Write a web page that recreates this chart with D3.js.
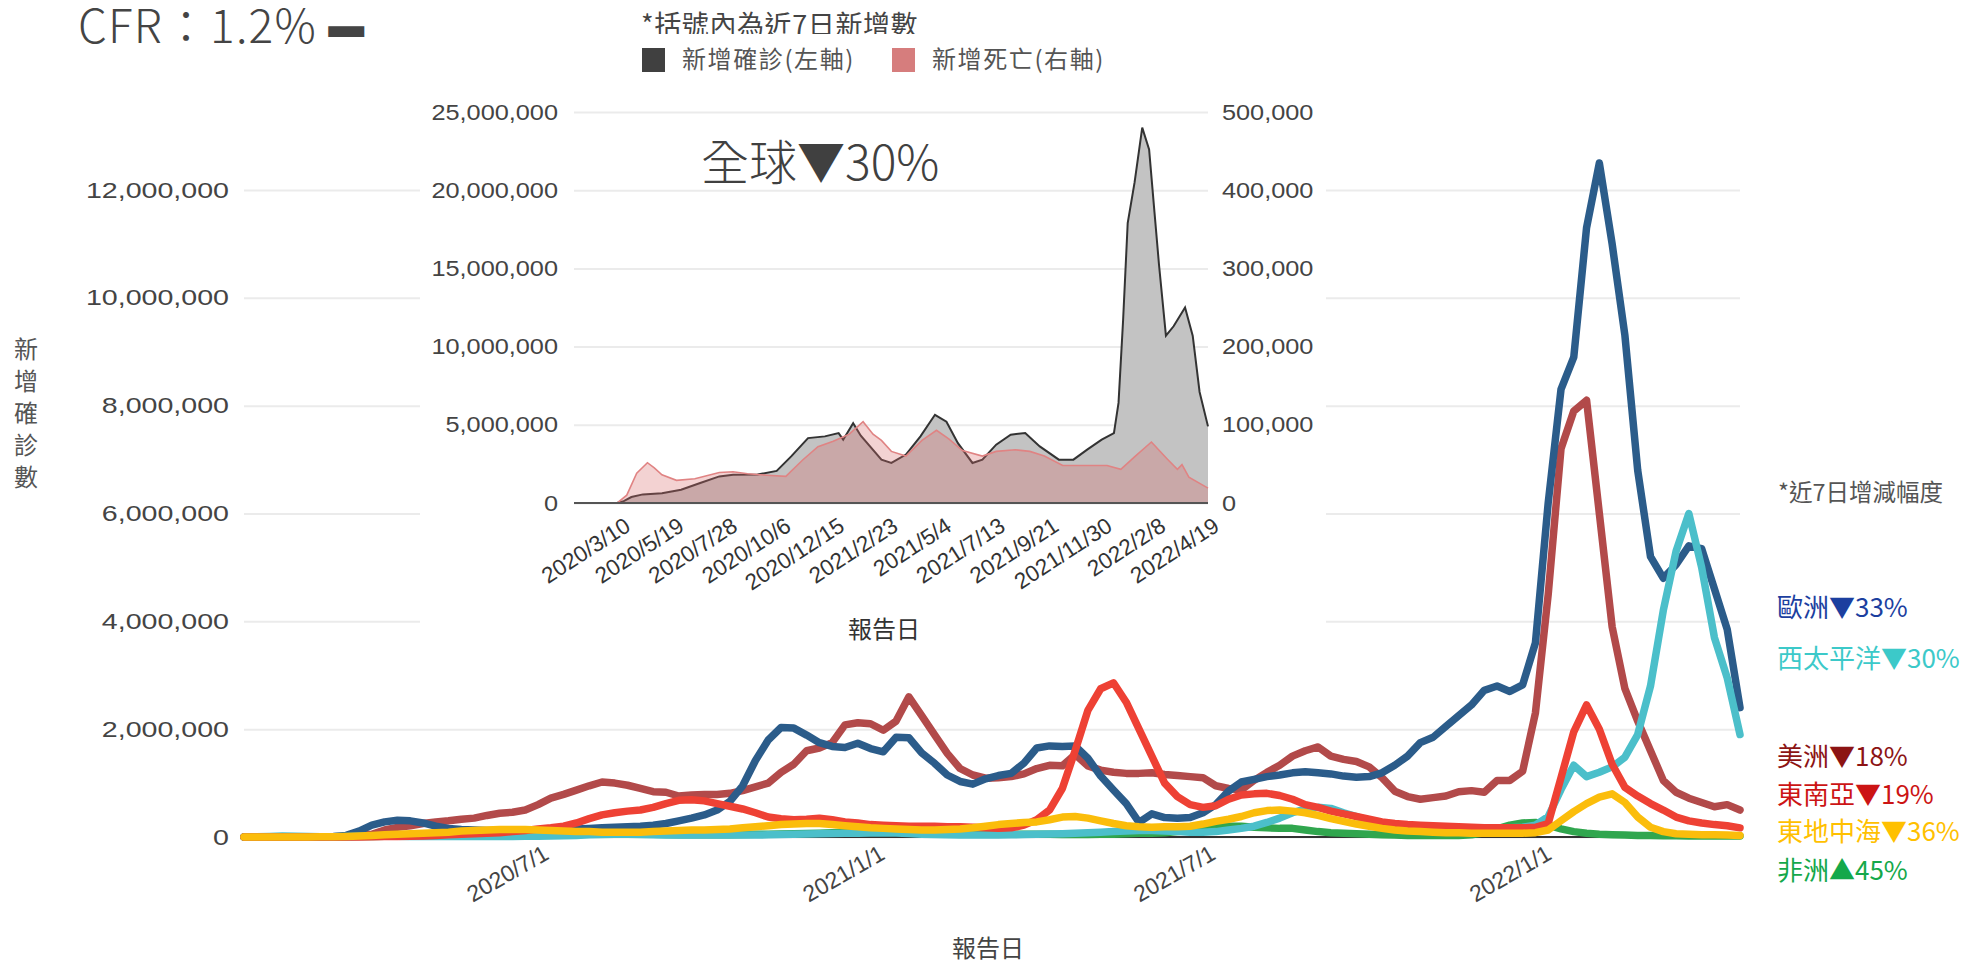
<!DOCTYPE html>
<html>
<head>
<meta charset="utf-8">
<script src="https://cdn.jsdelivr.net/npm/d3@7"></script>
<style>
  body { margin: 0; background: #fff; }
</style>
</head>
<body>
<svg id="chart"></svg>
<script>
// ---------- main chart: weekly new cases per WHO region (millions), one value per week from 2020/1/20 ----------
const weekStart = '2020-01-20';

const europe = [
  0, 0, 0, 0, 0, 0, 0.005, 0.01, 0.03, 0.11,
  0.22, 0.28, 0.31, 0.3, 0.26, 0.2, 0.16, 0.14, 0.13, 0.12,
  0.12, 0.12, 0.13, 0.13, 0.13, 0.14, 0.15, 0.16, 0.17, 0.18,
  0.19, 0.2, 0.22, 0.25, 0.3, 0.35, 0.41, 0.5, 0.66, 0.95,
  1.42, 1.8, 2.03, 2.02, 1.89, 1.75, 1.68, 1.66, 1.74, 1.64,
  1.58, 1.85, 1.84, 1.56, 1.37, 1.15, 1.03, 0.98, 1.08, 1.14,
  1.18, 1.37, 1.65, 1.69, 1.68, 1.69, 1.46, 1.13, 0.87, 0.62,
  0.27, 0.43, 0.36, 0.35, 0.36, 0.45, 0.6, 0.85, 1.02, 1.07,
  1.12, 1.15, 1.19, 1.21, 1.19, 1.17, 1.13, 1.11, 1.12, 1.19,
  1.33, 1.5, 1.75, 1.85, 2.05, 2.25, 2.45, 2.72, 2.8, 2.7,
  2.82, 3.6, 6.2, 8.3, 8.9, 11.3, 12.5, 11.0, 9.3, 6.8,
  5.2, 4.8, 5.05, 5.4, 5.35, 4.6, 3.85, 2.4
];
const westPacific = [
  0.002, 0.005, 0.01, 0.02, 0.015, 0.01, 0.005, 0.005, 0.008, 0.012,
  0.015, 0.015, 0.012, 0.01, 0.008, 0.008, 0.007, 0.007, 0.008, 0.009,
  0.01, 0.01, 0.012, 0.014, 0.018, 0.025, 0.03, 0.04, 0.045, 0.05,
  0.05, 0.045, 0.04, 0.035, 0.035, 0.035, 0.035, 0.035, 0.035, 0.035,
  0.035, 0.04, 0.045, 0.05, 0.055, 0.06, 0.065, 0.07, 0.07, 0.075,
  0.08, 0.075, 0.065, 0.05, 0.045, 0.04, 0.035, 0.035, 0.035, 0.035,
  0.04, 0.045, 0.05, 0.055, 0.06, 0.07, 0.08, 0.09, 0.1, 0.11,
  0.12, 0.12, 0.11, 0.1, 0.09, 0.09, 0.1, 0.13, 0.16, 0.2,
  0.27, 0.35, 0.45, 0.52, 0.55, 0.53, 0.45, 0.38, 0.3, 0.24,
  0.2, 0.18, 0.17, 0.17, 0.17, 0.17, 0.17, 0.17, 0.17, 0.17,
  0.18, 0.22, 0.38, 0.88, 1.33, 1.12, 1.2, 1.3, 1.48, 1.9,
  2.8, 4.2, 5.3, 6.0, 5.0, 3.7, 2.95, 1.9
];
const americas = [
  0, 0, 0, 0, 0, 0, 0, 0.002, 0.01, 0.03,
  0.05, 0.13, 0.18, 0.21, 0.25, 0.28, 0.3, 0.33, 0.35, 0.4,
  0.44, 0.46, 0.5, 0.6, 0.72, 0.79, 0.87, 0.95, 1.02, 1.0,
  0.96, 0.9, 0.84, 0.83, 0.76, 0.78, 0.79, 0.79, 0.81, 0.86,
  0.93, 1.0, 1.2, 1.35, 1.6, 1.65, 1.75, 2.08, 2.12, 2.1,
  1.98, 2.15, 2.6, 2.25, 1.9, 1.55, 1.27, 1.15, 1.09, 1.1,
  1.12, 1.17, 1.27, 1.33, 1.32, 1.53, 1.32, 1.24, 1.2, 1.18,
  1.18, 1.19, 1.16, 1.14, 1.12, 1.1, 0.95, 0.9, 0.87, 1.05,
  1.2, 1.33, 1.5, 1.6, 1.67, 1.5, 1.44, 1.4, 1.3, 1.1,
  0.85, 0.75, 0.7, 0.73, 0.76, 0.84, 0.86, 0.83, 1.05, 1.05,
  1.22, 2.3, 4.5, 7.2, 7.9, 8.1, 6.0, 3.9, 2.75, 2.15,
  1.6, 1.05, 0.83, 0.72, 0.64, 0.56, 0.6, 0.5
];
const seAsia = [
  0, 0, 0, 0, 0, 0, 0, 0, 0, 0.002,
  0.005, 0.01, 0.01, 0.015, 0.02, 0.03, 0.04, 0.05, 0.06, 0.07,
  0.08, 0.1, 0.12, 0.15, 0.17, 0.2, 0.26, 0.34, 0.41, 0.45,
  0.48, 0.5, 0.55, 0.62, 0.68, 0.69, 0.67, 0.62, 0.57, 0.52,
  0.45, 0.37, 0.34, 0.32, 0.33, 0.35, 0.32, 0.28, 0.26, 0.23,
  0.22, 0.21, 0.2, 0.2, 0.2, 0.19, 0.19, 0.18, 0.17, 0.16,
  0.17, 0.22, 0.32, 0.5, 0.9, 1.6, 2.35, 2.75, 2.86, 2.5,
  2.0, 1.5, 1.0, 0.75, 0.6, 0.55, 0.58, 0.7, 0.78, 0.8,
  0.81, 0.77, 0.7, 0.6, 0.55, 0.48, 0.43, 0.38, 0.33, 0.28,
  0.25, 0.23, 0.22, 0.21, 0.2, 0.19, 0.18, 0.17, 0.17, 0.17,
  0.17, 0.18, 0.25, 1.1, 1.95, 2.45, 2.0, 1.35, 0.92, 0.76,
  0.62, 0.5, 0.37, 0.3, 0.26, 0.23, 0.21, 0.17
];
const eastMed = [
  0, 0, 0, 0, 0, 0.001, 0.003, 0.005, 0.01, 0.02,
  0.03, 0.04, 0.05, 0.06, 0.07, 0.08, 0.09, 0.11, 0.12, 0.13,
  0.14, 0.14, 0.14, 0.13, 0.12, 0.11, 0.1, 0.1, 0.09, 0.09,
  0.09, 0.09, 0.1, 0.11, 0.12, 0.13, 0.13, 0.14, 0.15, 0.17,
  0.19, 0.21, 0.23, 0.24, 0.25, 0.25, 0.23, 0.21, 0.19, 0.17,
  0.16, 0.15, 0.14, 0.13, 0.13, 0.14, 0.15, 0.17, 0.2, 0.23,
  0.25, 0.27, 0.28, 0.32, 0.37, 0.38, 0.35, 0.3, 0.25, 0.21,
  0.19, 0.18, 0.19, 0.19, 0.2, 0.24, 0.29, 0.33, 0.38, 0.45,
  0.49, 0.5, 0.48, 0.45, 0.4, 0.34, 0.29, 0.24, 0.2, 0.16,
  0.13, 0.11, 0.1, 0.09, 0.08, 0.08, 0.07, 0.07, 0.07, 0.07,
  0.07, 0.08, 0.13, 0.3, 0.47, 0.62, 0.74, 0.8, 0.64, 0.37,
  0.18, 0.1, 0.06, 0.05, 0.04, 0.04, 0.035, 0.03
];
const africa = [
  0, 0, 0, 0, 0, 0, 0.001, 0.002, 0.005, 0.008,
  0.01, 0.012, 0.015, 0.018, 0.02, 0.025, 0.03, 0.035, 0.04, 0.05,
  0.06, 0.07, 0.08, 0.1, 0.11, 0.12, 0.12, 0.11, 0.1, 0.08,
  0.07, 0.06, 0.05, 0.045, 0.04, 0.04, 0.04, 0.04, 0.04, 0.045,
  0.05, 0.05, 0.055, 0.06, 0.065, 0.07, 0.08, 0.09, 0.1, 0.12,
  0.13, 0.13, 0.12, 0.1, 0.08, 0.07, 0.06, 0.05, 0.05, 0.05,
  0.05, 0.05, 0.05, 0.05, 0.045, 0.045, 0.045, 0.05, 0.05, 0.06,
  0.07, 0.07, 0.08, 0.1, 0.12, 0.15, 0.18, 0.2, 0.2, 0.18,
  0.17, 0.16, 0.16, 0.13, 0.1, 0.08, 0.07, 0.06, 0.05, 0.04,
  0.035, 0.03, 0.03, 0.03, 0.03, 0.03, 0.04, 0.08, 0.15, 0.22,
  0.26, 0.27, 0.22, 0.15, 0.1, 0.07, 0.05, 0.04, 0.035, 0.03,
  0.03, 0.025, 0.025, 0.02, 0.02, 0.02, 0.02, 0.02
];

const regionNames = ['歐洲', '西太平洋', '美洲', '東南亞', '東地中海', '非洲'];
const regionChange = ['▼33%', '▼30%', '▼18%', '▼19%', '▼36%', '▲45%'];
const mainYTicks = [0, 2e6, 4e6, 6e6, 8e6, 10e6, 12e6];
const mainXTicks = ['2020/7/1', '2021/1/1', '2021/7/1', '2022/1/1'];

// ---------- inset: global 7-day totals ----------
const caseDates = [
  '2020-01-11', '2020-03-08', '2020-03-16', '2020-03-26', '2020-04-10', '2020-05-05', '2020-05-30',
  '2020-06-24', '2020-07-19', '2020-08-06', '2020-09-07', '2020-10-02', '2020-10-21', '2020-11-12',
  '2020-12-04', '2020-12-22', '2020-12-28', '2021-01-10', '2021-01-20', '2021-02-16', '2021-03-01',
  '2021-03-20', '2021-04-08', '2021-04-27', '2021-05-12', '2021-05-27', '2021-06-15', '2021-06-28',
  '2021-07-16', '2021-08-04', '2021-08-23', '2021-09-11', '2021-10-06', '2021-10-25', '2021-11-12',
  '2021-12-01', '2021-12-17', '2021-12-23', '2021-12-29', '2022-01-04', '2022-01-13', '2022-01-23',
  '2022-02-01', '2022-02-08', '2022-02-14', '2022-02-23', '2022-03-05', '2022-03-20', '2022-03-30',
  '2022-04-08', '2022-04-19'
];
const caseValues = [ // millions
  0, 0.02, 0.12, 0.38, 0.55, 0.62, 0.85,
  1.28, 1.7, 1.8, 1.82, 2.05, 2.98, 4.15,
  4.26, 4.47, 4.05, 5.1, 4.3, 2.77, 2.56,
  3.1, 4.26, 5.64, 5.2, 3.83, 2.56, 2.77,
  3.73, 4.37, 4.47, 3.62, 2.77, 2.77, 3.41,
  4.05, 4.47, 6.4, 11.7, 17.9, 20.5, 24.0,
  22.6, 18.6, 15.2, 10.7, 11.3, 12.5, 10.7,
  7.1, 4.9
];
const deathDates = [
  '2020-01-11', '2020-03-08', '2020-03-20', '2020-04-02', '2020-04-16', '2020-04-25', '2020-05-05',
  '2020-05-24', '2020-06-17', '2020-07-19', '2020-08-06', '2020-08-25', '2020-09-19', '2020-10-14',
  '2020-11-05', '2020-11-25', '2020-12-15', '2021-01-05', '2021-01-23', '2021-02-05', '2021-02-16',
  '2021-03-01', '2021-03-20', '2021-04-10', '2021-04-29', '2021-05-15', '2021-06-02', '2021-06-28',
  '2021-07-16', '2021-08-10', '2021-08-29', '2021-09-17', '2021-10-11', '2021-11-12', '2021-12-08',
  '2021-12-26', '2022-01-14', '2022-02-04', '2022-02-25', '2022-03-10', '2022-03-16', '2022-03-25',
  '2022-04-19'
];
const deathValues = [ // thousands
  0, 0.5, 10, 38, 51.5, 45, 36,
  29, 31, 39, 40, 37.5, 35.5, 34,
  55, 72, 79, 88, 104, 88, 80,
  66, 60, 80, 93, 82, 67, 60,
  66, 68, 66, 60, 48, 48, 48,
  43, 60, 78, 56, 43, 49, 33,
  19
];
const insetXTicks = ['2020/3/10', '2020/5/19', '2020/7/28', '2020/10/6', '2020/12/15', '2021/2/23',
  '2021/5/4', '2021/7/13', '2021/9/21', '2021/11/30', '2022/2/8', '2022/4/19'];
const insetLeftTicks = [0, 5e6, 10e6, 15e6, 20e6, 25e6];
const insetRightTicks = [0, 1e5, 2e5, 3e5, 4e5, 5e5];

// ---------- drawing ----------
const CJK = "'Noto Sans CJK TC', 'Noto Sans', sans-serif";
const NUM = "'Liberation Sans', Arial, sans-serif";
const colors = {
  '歐洲': '#2b5c8a', '西太平洋': '#4bbfca', '美洲': '#b24a4a',
  '東南亞': '#ee4134', '東地中海': '#fbbd0b', '非洲': '#30a64e'
};
const labelColors = {
  '歐洲': '#1c3f9f', '西太平洋': '#3cc9c9', '美洲': '#8c1414',
  '東南亞': '#cc1414', '東地中海': '#ffc000', '非洲': '#14a84a'
};

const parseDay = d3.timeParse('%Y-%m-%d');
const parseTick = d3.timeParse('%Y/%m/%d');
const fmtTick = d3.timeFormat('%Y/%-m/%-d');
const start = parseDay(weekStart);
const dates = europe.map((d, i) => d3.timeDay.offset(start, i * 7));

const seriesValues = {
  '歐洲': europe, '西太平洋': westPacific, '美洲': americas,
  '東南亞': seAsia, '東地中海': eastMed, '非洲': africa
};
const drawOrder = ['非洲', '美洲', '歐洲', '西太平洋', '東南亞', '東地中海'];

const svg = d3.select('#chart').attr('width', 1962).attr('height', 966);

// stretch axis numbers horizontally like the source picture
function stretch(sel, sx) {
  sel.each(function () {
    const t = d3.select(this);
    const x0 = +t.attr('x') || 0;
    t.attr('x', 0).attr('transform', `translate(${x0},0) scale(${sx},1)`);
  });
}
function cleanAxis(g) {
  g.attr('font-size', null).attr('font-family', null);
  g.select('.domain').remove();
}

// ----- main chart -----
const main = { left: 244, right: 1740, top: 190, bottom: 837 };
const x = d3.scaleTime().domain([dates[0], dates[dates.length - 1]]).range([main.left, main.right]);
const y = d3.scaleLinear().domain([0, 12e6]).range([main.bottom, main.top]);

const gy = svg.append('g').attr('transform', `translate(${main.left},0)`)
  .call(d3.axisLeft(y).tickValues(mainYTicks).tickFormat(d3.format(','))
    .tickSize(-(main.right - main.left)).tickPadding(15));
cleanAxis(gy);
gy.selectAll('line').attr('stroke', '#ebebeb').attr('stroke-width', 2);
gy.selectAll('text').attr('fill', '#444').style('font-family', NUM).style('font-size', '22px');
stretch(gy.selectAll('text'), 1.3);

svg.append('line')
  .attr('x1', main.left).attr('x2', main.right).attr('y1', y(0)).attr('y2', y(0))
  .attr('stroke', '#333').attr('stroke-width', 2);

const gx = svg.append('g').attr('transform', `translate(0,${main.bottom})`)
  .call(d3.axisBottom(x).tickValues(mainXTicks.map(parseTick)).tickFormat(fmtTick).tickSize(0));
cleanAxis(gx);
gx.selectAll('text').attr('fill', '#444').style('font-family', NUM).style('font-size', '23px')
  .attr('y', 0).attr('dy', '0.35em').attr('text-anchor', 'end')
  .attr('transform', 'translate(4,14) rotate(-30)');

svg.append('text').attr('x', 988).attr('y', 949).attr('text-anchor', 'middle').attr('dy', '0.35em')
  .style('font-family', CJK).style('font-size', '24px').attr('fill', '#444').text('報告日');

const yTitle = svg.append('text').attr('x', 26).attr('y', 350).attr('text-anchor', 'middle')
  .style('font-family', CJK).style('font-size', '24px').attr('fill', '#555');
'新增確診數'.split('').forEach((c, i) => {
  yTitle.append('tspan').attr('x', 26).attr('y', 350 + i * 32).attr('dy', '0.35em').text(c);
});

const line = d3.line()
  .x((d, i) => x(dates[i]))
  .y(d => y(d * 1e6));
drawOrder.forEach(name => {
  svg.append('path')
    .attr('d', line(seriesValues[name]))
    .attr('fill', 'none')
    .attr('stroke', colors[name])
    .attr('stroke-width', 7.5)
    .attr('stroke-linejoin', 'round')
    .attr('stroke-linecap', 'round');
});

// right-hand annotations
svg.append('text').attr('x', 1778).attr('y', 493).attr('dy', '0.35em')
  .style('font-family', CJK).style('font-size', '23.5px').attr('fill', '#555').text('*近7日增減幅度');
const labelY = [608, 659, 757, 795, 832, 871];
regionNames.forEach((name, i) => {
  svg.append('text').attr('x', 1777).attr('y', labelY[i]).attr('dy', '0.35em')
    .style('font-family', CJK).style('font-size', '26px').attr('fill', labelColors[name])
    .text(name + regionChange[i]);
});

// CFR headline
const cfr = svg.append('text').attr('x', 78).attr('y', 43)
  .style('font-family', CJK).style('font-size', '46px').style('font-weight', 300)
  .style('letter-spacing', '1.2px').attr('fill', '#444')
  .text('CFR：1.2% ');
cfr.append('tspan').style('font-family', "'DejaVu Sans', sans-serif").style('font-size', '36px')
  .attr('dy', -6).text('▬');

// ----- inset: global chart -----
svg.append('text').attr('x', 641).attr('y', 35)
  .style('font-family', CJK).style('font-size', '27px').style('letter-spacing', '0.6px')
  .attr('fill', '#444').text('*括號內為近7日新增數');
svg.append('rect').attr('x', 420).attr('y', 34).attr('width', 906).attr('height', 626).attr('fill', '#fff');

const inset = { left: 574, right: 1208, top: 112, bottom: 503 };
const ix = d3.scaleTime().domain([parseDay('2020-01-11'), parseDay('2022-04-19')]).range([inset.left, inset.right]);
const iyL = d3.scaleLinear().domain([0, 25e6]).range([inset.bottom, inset.top]);
const iyR = d3.scaleLinear().domain([0, 5e5]).range([inset.bottom, inset.top]);

const gl = svg.append('g').attr('transform', `translate(${inset.left},0)`)
  .call(d3.axisLeft(iyL).tickValues(insetLeftTicks).tickFormat(d3.format(','))
    .tickSize(-(inset.right - inset.left)).tickPadding(16));
cleanAxis(gl);
gl.selectAll('line').attr('stroke', '#ebebeb').attr('stroke-width', 2);
gl.selectAll('text').attr('fill', '#444').style('font-family', NUM).style('font-size', '22px');
stretch(gl.selectAll('text'), 1.15);

const gr = svg.append('g').attr('transform', `translate(${inset.right},0)`)
  .call(d3.axisRight(iyR).tickValues(insetRightTicks).tickFormat(d3.format(',')).tickSize(0).tickPadding(14));
cleanAxis(gr);
gr.selectAll('text').attr('fill', '#444').style('font-family', NUM).style('font-size', '22px');
stretch(gr.selectAll('text'), 1.15);

const cases = caseDates.map((d, i) => ({ date: parseDay(d), v: caseValues[i] * 1e6 }));
const deaths = deathDates.map((d, i) => ({ date: parseDay(d), v: deathValues[i] * 1e3 }));

svg.append('path')
  .attr('d', d3.area().x(d => ix(d.date)).y0(iyL(0)).y1(d => iyL(d.v))(cases))
  .attr('fill', '#c3c3c3');
svg.append('path')
  .attr('d', d3.line().x(d => ix(d.date)).y(d => iyL(d.v))(cases))
  .attr('fill', 'none').attr('stroke', '#333').attr('stroke-width', 2);
svg.append('path')
  .attr('d', d3.area().x(d => ix(d.date)).y0(iyR(0)).y1(d => iyR(d.v))(deaths))
  .attr('fill', 'rgba(214,106,106,0.3)');
svg.append('path')
  .attr('d', d3.line().x(d => ix(d.date)).y(d => iyR(d.v))(deaths))
  .attr('fill', 'none').attr('stroke', '#e08383').attr('stroke-width', 1.6);
svg.append('line')
  .attr('x1', inset.left).attr('x2', inset.right).attr('y1', inset.bottom).attr('y2', inset.bottom)
  .attr('stroke', '#555').attr('stroke-width', 2);

const gix = svg.append('g').attr('transform', `translate(0,${inset.bottom})`)
  .call(d3.axisBottom(ix).tickValues(insetXTicks.map(parseTick)).tickFormat(fmtTick).tickSize(0));
cleanAxis(gix);
gix.selectAll('text').attr('fill', '#333').style('font-family', NUM).style('font-size', '22.5px')
  .attr('y', 0).attr('dy', '0.35em').attr('text-anchor', 'end')
  .attr('transform', 'translate(8,20) rotate(-33)');

svg.append('text').attr('x', 884).attr('y', 630).attr('text-anchor', 'middle').attr('dy', '0.35em')
  .style('font-family', CJK).style('font-size', '24px').attr('fill', '#333').text('報告日');

svg.append('text').attr('x', 701).attr('y', 180)
  .style('font-family', CJK).style('font-size', '48px').style('font-weight', 300).attr('fill', '#404040')
  .text('全球▼30%');

// legend
const legend = [
  { label: '新增確診(左軸)', color: '#404040', x: 642 },
  { label: '新增死亡(右軸)', color: '#d67d7d', x: 892 }
];
legend.forEach(l => {
  svg.append('rect').attr('x', l.x).attr('y', 48).attr('width', 23).attr('height', 24).attr('fill', l.color);
  svg.append('text').attr('x', l.x + 40).attr('y', 60).attr('dy', '0.35em')
    .style('font-family', CJK).style('font-size', '24px').style('letter-spacing', '1.6px')
    .attr('fill', '#555').text(l.label);
});
</script>
</body>
</html>
